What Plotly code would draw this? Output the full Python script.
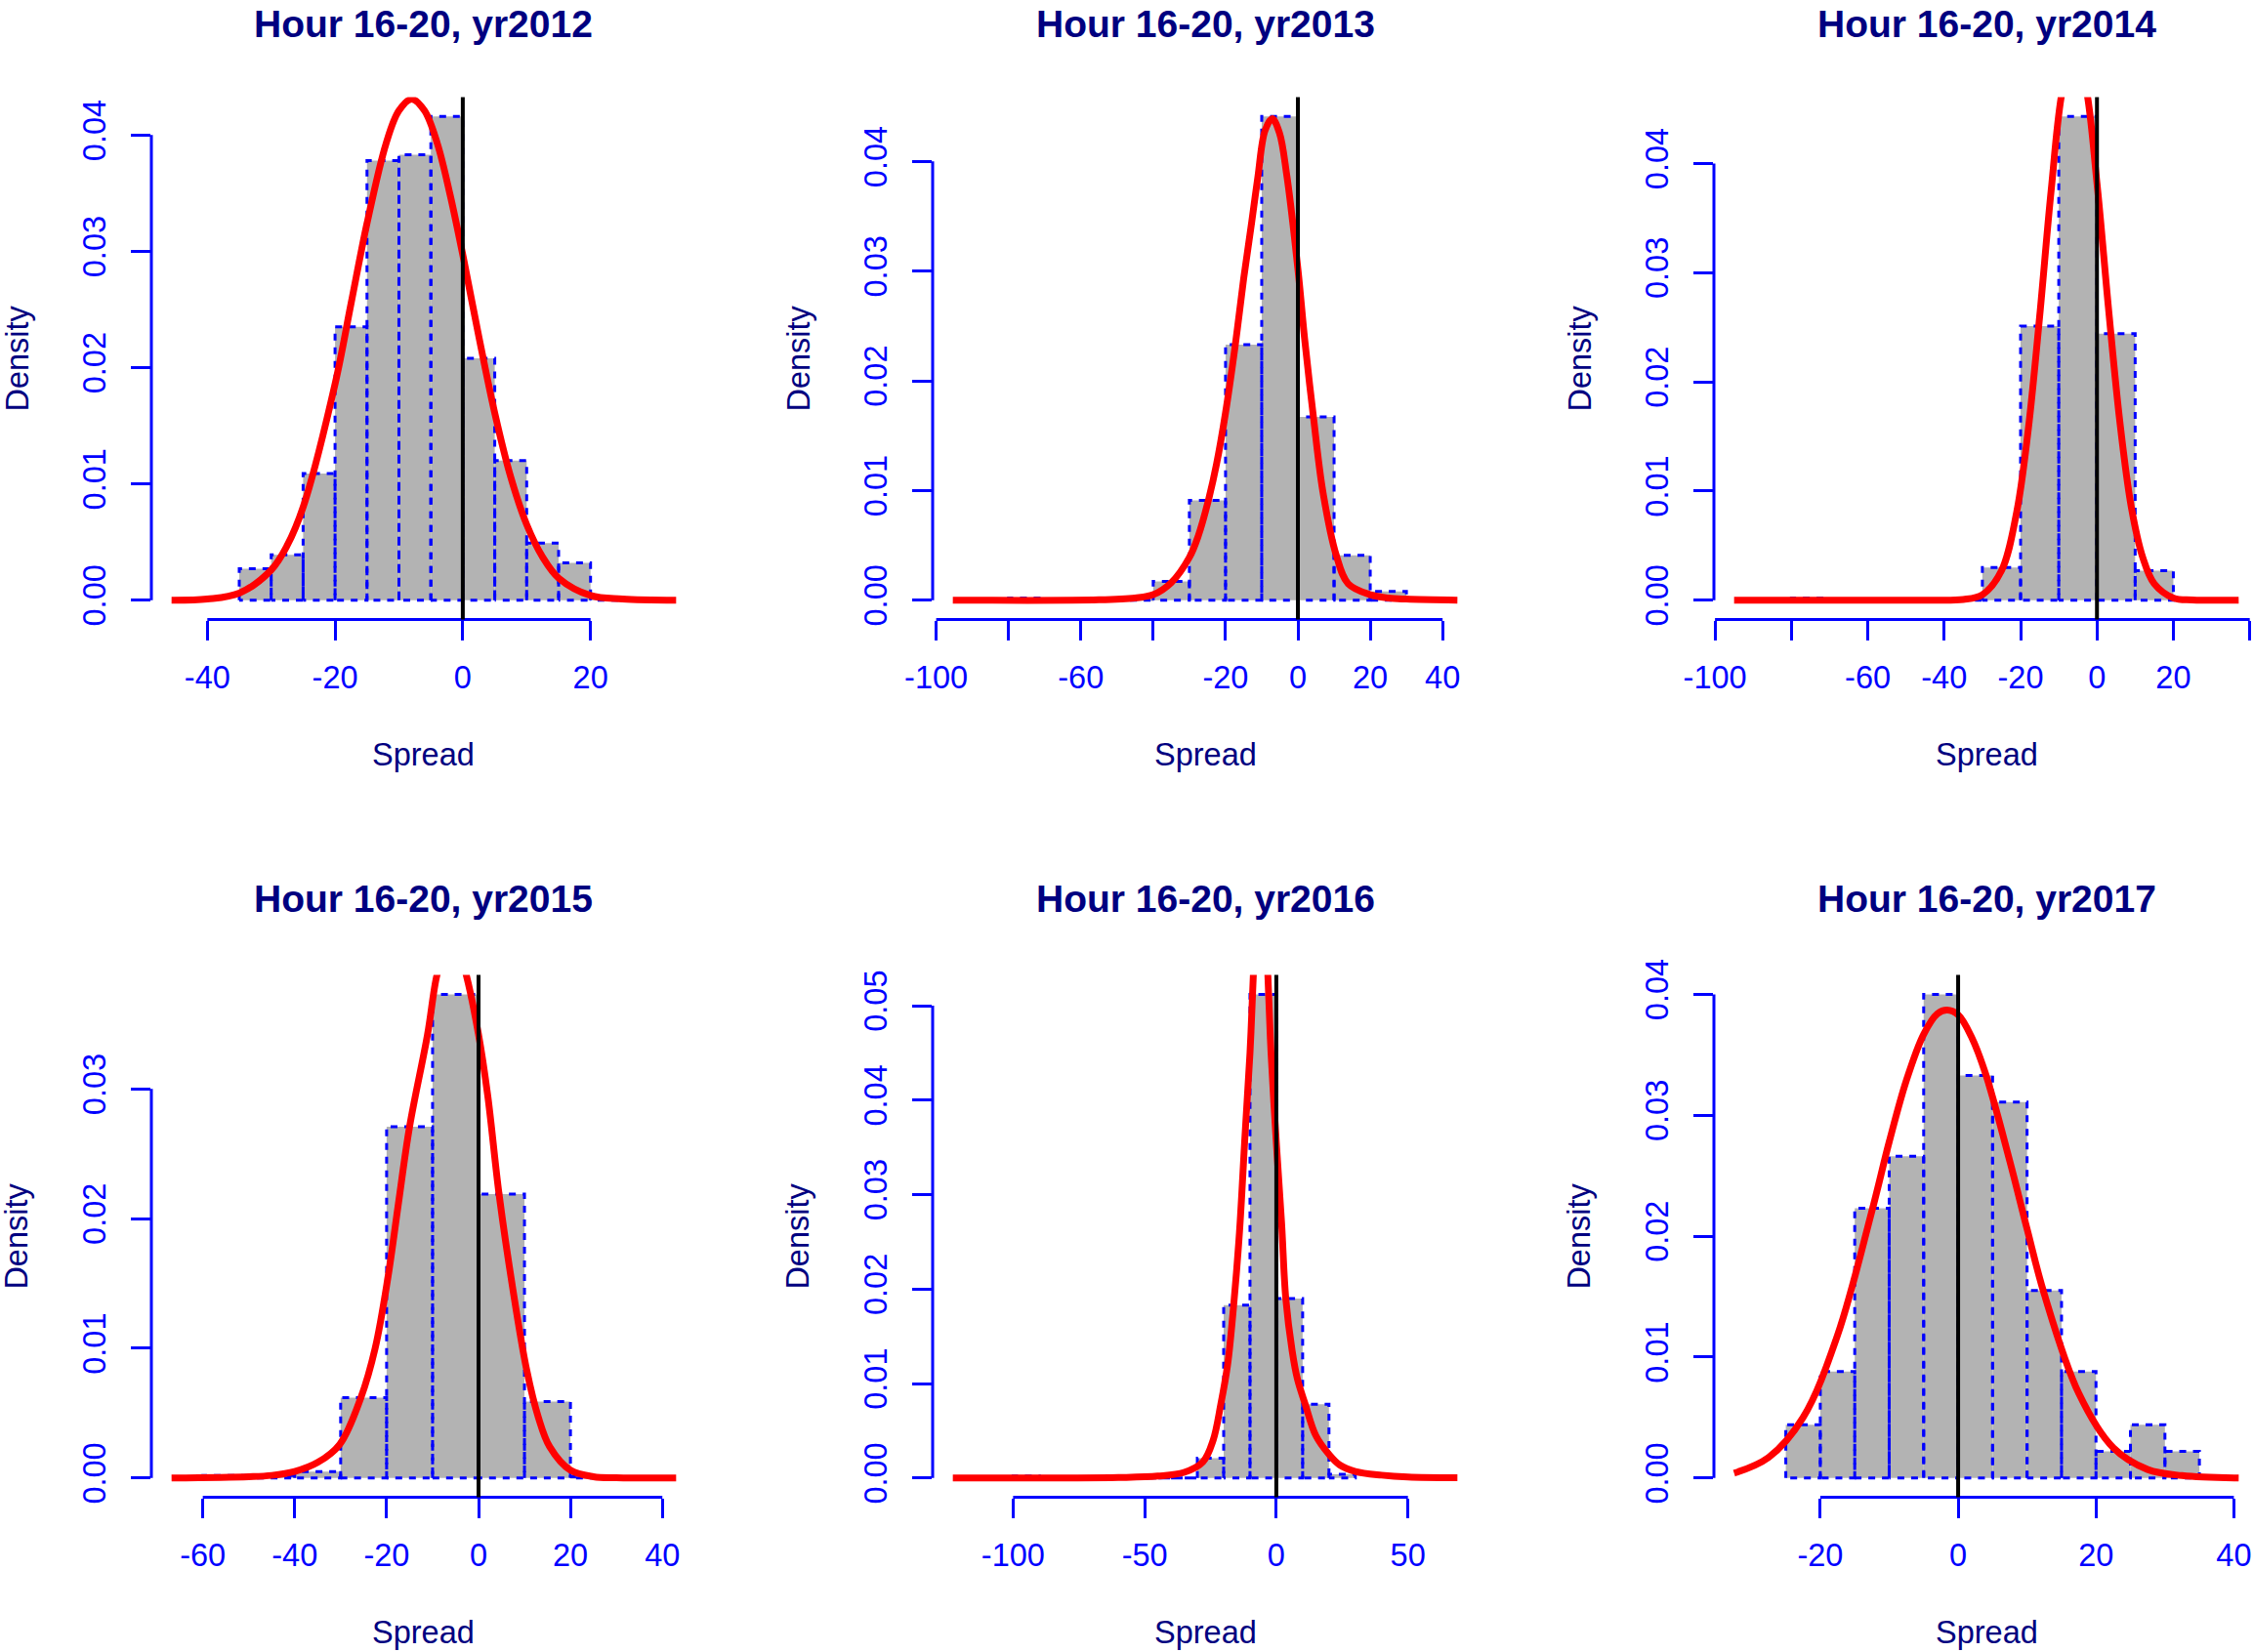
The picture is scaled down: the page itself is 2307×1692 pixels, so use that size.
import plotly.graph_objects as go

W, H = 2307, 1692

# ---------------- data ----------------
years = ["2012", "2013", "2014", "2015", "2016", "2017"]
title_prefix = "Hour 16-20, yr"
x_label = "Spread"
y_label = "Density"

bin_start = [-35, -80, -80, -60, -100, -25]
bin_width = [5, 10, 10, 10, 10, 5]

dens_2012 = [0.0027, 0.0039, 0.0109, 0.0235, 0.0378, 0.0383, 0.0416, 0.0208, 0.0120, 0.0049, 0.0032, 0.0002]
dens_2013 = [0.0002, 0.0, 0.0, 0.0001, 0.0017, 0.0091, 0.0233, 0.0441, 0.0167, 0.0041, 0.0008]
dens_2014 = [0.0002, 0.0, 0.0, 0.0, 0.0001, 0.0030, 0.0251, 0.0443, 0.0244, 0.0027]
dens_2015 = [0.0002, 0.0002, 0.0005, 0.0062, 0.0271, 0.0373, 0.0219, 0.0059, 0.0001]
dens_2016 = [0.0002, 0.0, 0.0, 0.0, 0.0, 0.0, 0.0, 0.0021, 0.0183, 0.0512, 0.0190, 0.0078, 0.0004]
dens_2017 = [0.0044, 0.0088, 0.0223, 0.0266, 0.0400, 0.0333, 0.0311, 0.0155, 0.0088, 0.0022, 0.0044, 0.0022]

curve_x_2012 = [-45.6, -40, -35, -30, -27.5, -25, -20, -17.5, -15, -12, -10, -8, -6, -4, -2, 0, 2.5, 5, 7.5, 10, 12.5, 15, 20, 25, 33.4]
curve_y_2012 = [0.0, 0.0001, 0.0006, 0.0026, 0.0047, 0.0080, 0.0186, 0.0255, 0.0324, 0.0393, 0.0421, 0.0431, 0.0421, 0.0393, 0.0349, 0.0297, 0.0227, 0.0161, 0.0106, 0.0065, 0.0037, 0.0019, 0.0004, 0.0001, 0.0]

curve_x_2013 = [-95.4, -55, -45, -40, -35, -30, -27.5, -24.9, -22.5, -20, -17.3, -15, -12.8, -11.1, -9.1, -7.1, -5.1, -3.1, 0, 1.9, 4.3, 6.9, 10.6, 13.9, 20, 25, 30, 44.1]
curve_y_2013 = [0.0, 0.00003, 0.0002, 0.0005, 0.0016, 0.0039, 0.0059, 0.0089, 0.0124, 0.0171, 0.0233, 0.0293, 0.0344, 0.0385, 0.0428, 0.0439, 0.0426, 0.0388, 0.0302, 0.0237, 0.0167, 0.0099, 0.0041, 0.0015, 0.0005, 0.0002, 0.0001, 0.0]

curve_x_2014 = [-95, -60, -45, -35, -30, -25, -21, -18, -15, -12, -9, -5.9, -3, 0, 3, 6, 9, 12, 15, 20, 25, 37.1]
curve_y_2014 = [0.0, 0.0, 0.0, 0.00006, 0.0005, 0.0027, 0.0081, 0.0156, 0.0260, 0.0375, 0.0468, 0.0505, 0.0472, 0.0382, 0.0268, 0.0163, 0.0085, 0.0039, 0.0015, 0.0002, 0.00002, 0.0]

curve_x_2015 = [-66.8, -50, -45, -40, -35, -30.2, -25.6, -22.5, -19.7, -17.5, -15, -11.1, -9.1, -7.5, -5.8, -4, -2.6, 0, 2, 4.5, 7.5, 10.5, 13, 15.5, 20, 25, 30, 43]
curve_y_2015 = [0.0, 0.0001, 0.0002, 0.0005, 0.0012, 0.0026, 0.0062, 0.0100, 0.0155, 0.0210, 0.0271, 0.0342, 0.0387, 0.0405, 0.0412, 0.0404, 0.0387, 0.0342, 0.0295, 0.0218, 0.0145, 0.0083, 0.0047, 0.0024, 0.0006, 0.0001, 0.00002, 0.0]

curve_x_2016 = [-122.9, -60, -45, -35, -27.9, -24, -21.1, -18.5, -16.2, -14, -11.9, -10, -8.75, -8, -7, -6, -5, -4, -3.19, -2, 0, 2, 3.6, 6, 8, 11, 15, 20, 24, 30, 40, 50, 68.8]
curve_y_2016 = [0.0, 0.00005, 0.0002, 0.0006, 0.0017, 0.0040, 0.0078, 0.0120, 0.0183, 0.0260, 0.0362, 0.0450, 0.0531, 0.058, 0.066, 0.075, 0.066, 0.058, 0.0531, 0.045, 0.0355, 0.0270, 0.0190, 0.0135, 0.0105, 0.0078, 0.0045, 0.0025, 0.0014, 0.0007, 0.0003, 0.0001, 0.00002]

curve_x_2017 = [-32.5, -27.5, -22.5, -17.5, -12.5, -10, -7.5, -5, -3, -1.6, 0, 2, 4, 7.5, 10, 12.5, 17.5, 22.5, 27.5, 32.5, 40.7]
curve_y_2017 = [0.0004, 0.0017, 0.0050, 0.0118, 0.0221, 0.0278, 0.0329, 0.0367, 0.0384, 0.0387, 0.0383, 0.0364, 0.0334, 0.0262, 0.0206, 0.0152, 0.0070, 0.0025, 0.0007, 0.0002, 0.0]

xticks_2012 = [-40, -20, 0, 20]
xticks_2013 = [-100, -80, -60, -40, -20, 0, 20, 40]
xticks_2014 = [-100, -80, -60, -40, -20, 0, 20, 40]
xticks_2015 = [-60, -40, -20, 0, 20, 40]
xticks_2016 = [-100, -50, 0, 50]
xticks_2017 = [-20, 0, 20, 40]

xlabels_2012 = ["-40", "-20", "0", "20"]
xlabels_2013 = ["-100", "", "-60", "", "-20", "0", "20", "40"]
xlabels_2014 = ["-100", "", "-60", "-40", "-20", "0", "20", "40"]
xlabels_2015 = ["-60", "-40", "-20", "0", "20", "40"]
xlabels_2016 = ["-100", "-50", "0", "50"]
xlabels_2017 = ["-20", "0", "20", "40"]

yticks_2012 = [0.00, 0.01, 0.02, 0.03, 0.04]
yticks_2013 = [0.00, 0.01, 0.02, 0.03, 0.04]
yticks_2014 = [0.00, 0.01, 0.02, 0.03, 0.04]
yticks_2015 = [0.00, 0.01, 0.02, 0.03]
yticks_2016 = [0.00, 0.01, 0.02, 0.03, 0.04, 0.05]
yticks_2017 = [0.00, 0.01, 0.02, 0.03, 0.04]

reference_x = 0

dens_all = [dens_2012, dens_2013, dens_2014, dens_2015, dens_2016, dens_2017]
curve_x_all = [curve_x_2012, curve_x_2013, curve_x_2014, curve_x_2015, curve_x_2016, curve_x_2017]
curve_y_all = [curve_y_2012, curve_y_2013, curve_y_2014, curve_y_2015, curve_y_2016, curve_y_2017]
xticks_all = [xticks_2012, xticks_2013, xticks_2014, xticks_2015, xticks_2016, xticks_2017]
xlabels_all = [xlabels_2012, xlabels_2013, xlabels_2014, xlabels_2015, xlabels_2016, xlabels_2017]
yticks_all = [yticks_2012, yticks_2013, yticks_2014, yticks_2015, yticks_2016, yticks_2017]

# ---------------- style / layout ----------------
FONT = "Liberation Sans, Arial, Helvetica, sans-serif"
NAVY = "#000080"
BLUE = "#0000FF"
GRAY = "#B3B3B3"
RED = "#FF0000"

col_left = [155, 955, 1755]
region_w = 558
row_top = [99.5, 998.6]
region_h = 535
title_y = [24, 920]
xlab_y = [773, 1672]
ylab_dx = 137.5

fig = go.Figure()
shapes = []
annotations = []
layout_axes = {}

for i, yr in enumerate(years):
    row, col = divmod(i, 3)
    n = "" if i == 0 else str(i + 1)
    xa, ya = "x" + n, "y" + n
    dens = dens_all[i]
    cx, cy = curve_x_all[i], curve_y_all[i]
    w = bin_width[i]
    lefts = [bin_start[i] + k * w for k in range(len(dens))]
    centers = [l + w / 2 for l in lefts]

    # bars
    fig.add_trace(go.Bar(x=centers, y=dens, width=[w] * len(dens), base=0,
                         marker=dict(color=GRAY, line=dict(width=0)),
                         xaxis=xa, yaxis=ya, showlegend=False, hoverinfo="skip"))
    # dashed outlines
    ox, oy = [], []
    for l, h in zip(lefts, dens):
        ox += [l, l, l + w, l + w, l, None]
        oy += [0, h, h, 0, 0, None]
    fig.add_trace(go.Scatter(x=ox, y=oy, mode="lines",
                             line=dict(color=BLUE, width=3, dash="7px,7px"),
                             xaxis=xa, yaxis=ya, showlegend=False, hoverinfo="skip"))
    # fitted curve
    fig.add_trace(go.Scatter(x=cx, y=cy, mode="lines",
                             line=dict(color=RED, width=7, shape="spline", smoothing=1.0),
                             xaxis=xa, yaxis=ya, showlegend=False, hoverinfo="skip"))

    # geometry
    lo, hi = cx[0], cx[-1]
    pad = 0.04 * (hi - lo)
    r0, r1 = lo - pad, hi + pad
    left_px = col_left[col]
    right_px = left_px + region_w
    if right_px > W:
        r1 = r0 + (W - left_px) / region_w * (r1 - r0)
        right_px = W
    top_px = row_top[row]
    bot_px = top_px + region_h
    M = max(dens)

    layout_axes["xaxis" + n] = dict(
        domain=[left_px / W, right_px / W], range=[r0, r1], anchor=ya,
        tickvals=xticks_all[i], ticktext=xlabels_all[i], tickangle=0,
        ticks="outside", ticklen=20, tickwidth=3, tickcolor=BLUE,
        ticklabelstandoff=10, automargin=False,
        tickfont=dict(family=FONT, size=32.5, color=BLUE),
        showline=False, showgrid=False, zeroline=False, fixedrange=True)
    yt = yticks_all[i]
    layout_axes["yaxis" + n] = dict(
        domain=[1 - bot_px / H, 1 - top_px / H], range=[-0.04 * M, 1.04 * M], anchor=xa,
        tickvals=yt, ticktext=["%.2f" % v for v in yt], tickangle=-90,
        ticks="outside", ticklen=20, tickwidth=3, tickcolor=BLUE,
        ticklabelstandoff=13, automargin=False,
        tickfont=dict(family=FONT, size=32.5, color=BLUE),
        showline=False, showgrid=False, zeroline=False, fixedrange=True)

    xt = xticks_all[i]
    # x axis line (first to last tick)
    shapes.append(dict(type="line", xref=xa, yref=ya + " domain", x0=xt[0], x1=xt[-1], y0=0, y1=0,
                       line=dict(color=BLUE, width=3), layer="above"))
    # y axis line
    shapes.append(dict(type="line", xref=xa + " domain", yref=ya, x0=0, x1=0, y0=yt[0], y1=yt[-1],
                       line=dict(color=BLUE, width=3), layer="above"))
    # vertical reference line at 0
    shapes.append(dict(type="line", xref=xa, yref=ya + " domain", x0=reference_x, x1=reference_x, y0=0, y1=1,
                       line=dict(color="black", width=4), layer="above"))

    cxp = col_left[col] + region_w / 2
    annotations.append(dict(text="<b>" + title_prefix + yr + "</b>", x=cxp / W, y=1 - title_y[row] / H,
                            xref="paper", yref="paper", xanchor="center", yanchor="middle",
                            showarrow=False, font=dict(family=FONT, size=39, color=NAVY)))
    annotations.append(dict(text=x_label, x=cxp / W, y=1 - xlab_y[row] / H,
                            xref="paper", yref="paper", xanchor="center", yanchor="middle",
                            showarrow=False, font=dict(family=FONT, size=32.5, color=NAVY)))
    annotations.append(dict(text=y_label, x=(col_left[col] - ylab_dx) / W,
                            y=1 - (top_px + region_h / 2) / H,
                            xref="paper", yref="paper", xanchor="center", yanchor="middle",
                            textangle=-90, showarrow=False,
                            font=dict(family=FONT, size=32.5, color=NAVY)))

fig.update_layout(
    width=W, height=H, margin=dict(l=0, r=0, t=0, b=0, autoexpand=False),
    paper_bgcolor="white", plot_bgcolor="white",
    barmode="overlay", showlegend=False,
    shapes=shapes, annotations=annotations, **layout_axes)

fig.write_html("out.html", config={"displayModeBar": False})
